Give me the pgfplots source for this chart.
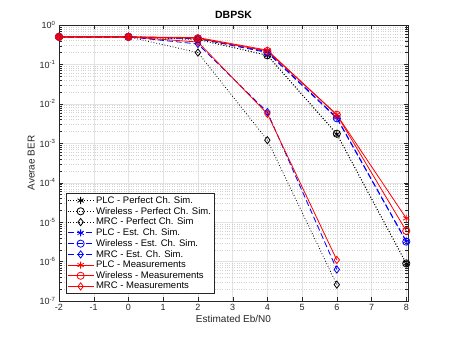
\documentclass[border=0pt]{standalone}
\usepackage{pgfplots}
\pgfplotsset{compat=1.18}
\usepackage{fontspec}
\setmainfont{Liberation Sans}
\definecolor{mblue}{rgb}{0,0,1}
\definecolor{mred}{rgb}{1,0,0}
\definecolor{axgray}{rgb}{0.15,0.15,0.15}

\begin{document}
\begin{tikzpicture}[x=1pt,y=1pt]
\path (0,0) rectangle (452,339);
\begin{axis}[
    at={(59pt,38pt)}, anchor=south west,
    scale only axis,
    width=349pt, height=276pt,
    ymode=log,
    xmin=-2, xmax=8.05,
    ymin=1e-7, ymax=1,
    xtick={-2,-1,0,1,2,3,4,5,6,7,8},
    xticklabels={-2,-1,0,1,2,3,4,5,6,7,8},
    ytick={1e-7,1e-6,1e-5,1e-4,1e-3,1e-2,1e-1,1},
    yticklabels={10\textsuperscript{-7},10\textsuperscript{-6},10\textsuperscript{-5},10\textsuperscript{-4},10\textsuperscript{-3},10\textsuperscript{-2},10\textsuperscript{-1},10\textsuperscript{0}},
    minor x tick num=0,
    grid=both,
    major grid style={gray!22, line width=0.4pt},
    minor grid style={gray!35, dotted, line width=0.4pt},
    axis line style={axgray, line width=0.5pt},
    tick style={axgray},
    tick align=inside,
    ticklabel style={font=\fontsize{9}{10}\selectfont, text=axgray},
    xlabel={Estimated Eb/N0},
    ylabel={Averae BER},
    label style={font=\fontsize{10}{11}\selectfont, text=axgray},
    xlabel style={yshift=3pt},
    ylabel style={yshift=-2pt},
    title={\textbf{DBPSK}},
    title style={font=\fontsize{10.5}{12}\selectfont, yshift=-3pt},
    legend style={at={(0.02,0.391)}, anchor=north west,
        font=\fontsize{9.5}{10.5}\selectfont, draw=axgray, line width=0.5pt,
        inner sep=1pt, row sep=-1.6pt, cells={anchor=west}},
    legend image code/.code={%
        \draw[mark repeat=2, mark phase=2, line width=0.8pt]
          plot coordinates {(0pt,0pt) (13pt,0pt) (26pt,0pt)};},
    every axis plot/.append style={line width=0.8pt, mark size=3.6pt, mark options={solid, fill=none}},
]
% perfect channel simulation
\addplot[black, dotted, mark=asterisk]
  coordinates {(-2,0.5)(0,0.5)(2,0.43)(4,0.17)(6,1.7e-3)(8,8.8e-7)};
\addplot[black, dotted, mark=o]
  coordinates {(-2,0.5)(0,0.5)(2,0.43)(4,0.17)(6,1.75e-3)(8,9e-7)};
\addplot[black, dotted, mark=diamond]
  coordinates {(-2,0.5)(0,0.5)(2,0.2)(4,1.2e-3)(6,2.6e-7)};
% estimated channel simulation
\addplot[mblue, dash pattern=on 6pt off 3pt, mark=asterisk]
  coordinates {(-2,0.5)(0,0.5)(2,0.46)(4,0.21)(6,4.5e-3)(8,3.3e-6)};
\addplot[mblue, dash pattern=on 6pt off 3pt, mark=o]
  coordinates {(-2,0.5)(0,0.5)(2,0.45)(4,0.2)(6,4.3e-3)(8,3.2e-6)};
\addplot[mblue, dash pattern=on 6pt off 3pt, mark=diamond]
  coordinates {(-2,0.5)(0,0.5)(2,0.33)(4,6.2e-3)(6,6.3e-7)};
% measurements
\addplot[mred, solid, mark=asterisk]
  coordinates {(-2,0.5)(0,0.5)(2,0.48)(4,0.23)(6,5.3e-3)(8,1.25e-5)};
\addplot[mred, solid, mark=o]
  coordinates {(-2,0.5)(0,0.5)(2,0.46)(4,0.22)(6,5.3e-3)(8,6e-6)};
\addplot[mred, solid, mark=diamond]
  coordinates {(-2,0.5)(0,0.5)(2,0.37)(4,5.6e-3)(6,1.1e-6)};
\legend{PLC - Perfect Ch. Sim., Wireless - Perfect Ch. Sim., MRC - Perfect Ch. Sim,
  PLC - Est. Ch. Sim., Wireless - Est. Ch. Sim., MRC - Est. Ch. Sim.,
  PLC - Measurements, Wireless - Measurements, MRC - Measurements}
\end{axis}
\end{tikzpicture}
\end{document}
